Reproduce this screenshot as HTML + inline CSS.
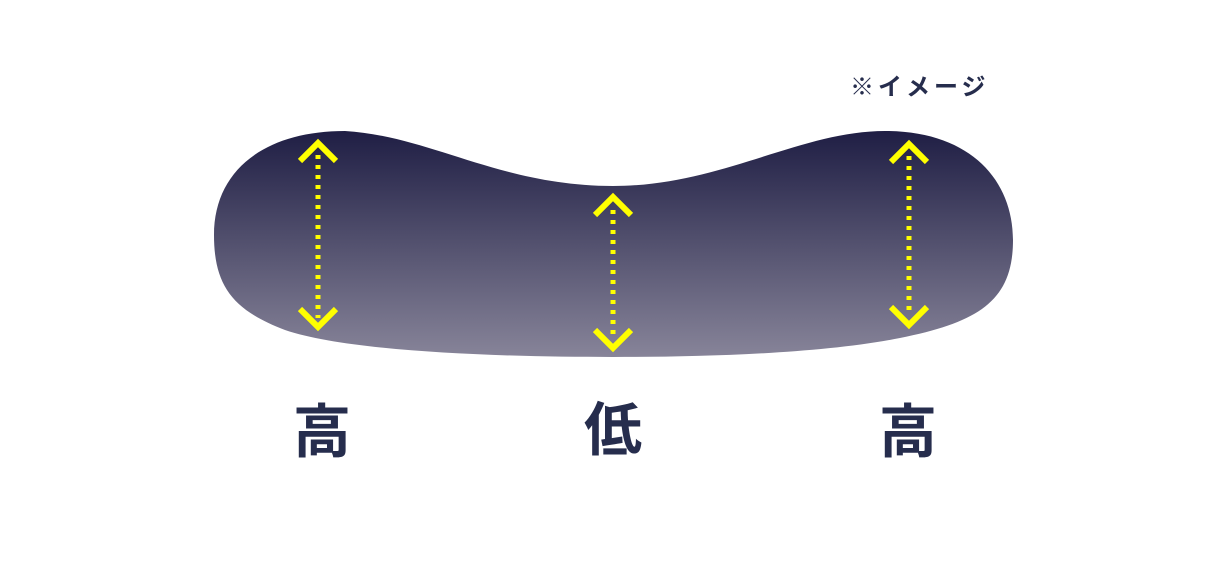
<!DOCTYPE html>
<html><head><meta charset="utf-8"><style>
html,body{margin:0;padding:0;background:#fff;width:1230px;height:568px;overflow:hidden}
svg{display:block}
text{font-family:"Liberation Sans","Noto Sans CJK JP",sans-serif;fill:#262d4d;font-weight:bold}
</style></head><body>
<svg width="1230" height="568" viewBox="0 0 1230 568">
<defs><linearGradient id="g" x1="0" y1="0" x2="0" y2="1">
<stop offset="0" stop-color="#1f1e44"/><stop offset="1" stop-color="#878499"/></linearGradient></defs>
<path fill="url(#g)" d="M 345 131 C 430 136, 500 186, 613 186 C 720 186, 800 131, 885 131 C 970 131, 1013 180, 1013 240 C 1013 300, 980 322, 900 338 C 820 354, 700 357, 613 357 C 500 357, 350 352, 285 330 C 232 310, 214 285, 214 235 C 214 170, 265 131, 345 131 Z"/>
<g stroke="#ffff00" fill="none">
<g stroke-width="5" stroke-dasharray="4 6">
<line x1="318" y1="155" x2="318" y2="318"/>
<line x1="613" y1="210" x2="613" y2="338"/>
<line x1="909" y1="156" x2="909" y2="315"/>
</g>
<g stroke-width="6" stroke-linecap="butt">
<polyline points="300,161 318,143 336,161"/>
<polyline points="300,309 318,327 336,309"/>
<polyline points="595,215 613,197 631,215"/>
<polyline points="595,330 613,348 631,330"/>
<polyline points="891,162 909,144 927,162"/>
<polyline points="891,307 909,325 927,307"/>
</g></g>
<text x="322" y="452" font-size="58" text-anchor="middle">高</text>
<text x="613" y="450" font-size="58" text-anchor="middle">低</text>
<text x="908" y="452" font-size="58" text-anchor="middle">高</text>
<text x="850" y="95" font-size="24" letter-spacing="4">※イメージ</text>
</svg>
</body></html>
